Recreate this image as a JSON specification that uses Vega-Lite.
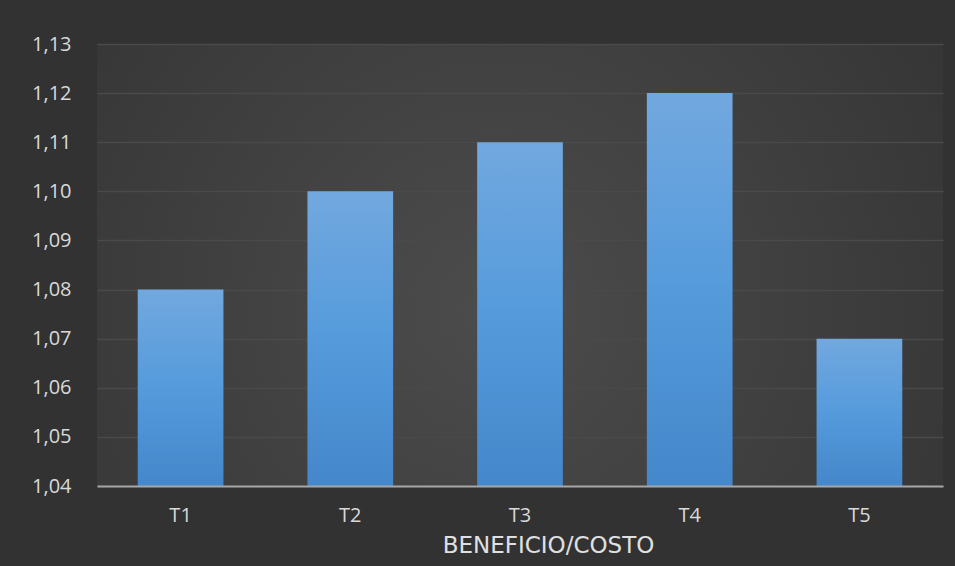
{
  "$schema": "https://vega.github.io/schema/vega-lite/v6.json",
  "autosize": {"type": "none"},
  "width": 846,
  "height": 442,
  "padding": {"left": 97, "top": 44, "right": 12, "bottom": 80},
  "background": "#323232",
  "config": {
    "view": {
      "stroke": null,
      "fill": {
        "gradient": "radial",
        "x1": 0.47, "y1": 0.55, "r1": 0,
        "x2": 0.47, "y2": 0.55, "r2": 0.8,
        "stops": [
          {"offset": 0, "color": "#4c4c4c"},
          {"offset": 1, "color": "#2f2f2f"}
        ]
      }
    },
    "font": "Open Sans"
  },
  "data": {
    "values": [
      {"trat": "T1", "bc": 1.08},
      {"trat": "T2", "bc": 1.10},
      {"trat": "T3", "bc": 1.11},
      {"trat": "T4", "bc": 1.12},
      {"trat": "T5", "bc": 1.07}
    ]
  },
  "mark": {
    "type": "bar",
    "fill": {
      "gradient": "linear",
      "x1": 0, "y1": 0, "x2": 0, "y2": 1,
      "stops": [
        {"offset": 0, "color": "#72a8df"},
        {"offset": 0.5, "color": "#559bdc"},
        {"offset": 1, "color": "#4487ca"}
      ]
    }
  },
  "encoding": {
    "x": {
      "field": "trat",
      "type": "nominal",
      "sort": null,
      "scale": {"paddingInner": 0.495, "paddingOuter": 0.24},
      "axis": {
        "title": "BENEFICIO/COSTO",
        "titleFont": "DejaVu Sans",
        "titleFontSize": 23,
        "titleFontWeight": "normal",
        "titleColor": "#e0e0e0",
        "titleX": 451,
        "titleY": 66,
        "titleBaseline": "alphabetic",
        "labelAngle": 0,
        "labelFontSize": 20,
        "labelColor": "#d9d9d9",
        "labelPadding": 19,
        "ticks": false,
        "domainColor": "#a6a6a6",
        "domainWidth": 2,
        "zindex": 1
      }
    },
    "y": {
      "field": "bc",
      "type": "quantitative",
      "scale": {"domain": [1.04, 1.13], "zero": false, "nice": false},
      "axis": {
        "title": null,
        "values": [1.04, 1.05, 1.06, 1.07, 1.08, 1.09, 1.10, 1.11, 1.12, 1.13],
        "labelExpr": "replace(format(datum.value, '.2f'), '.', ',')",
        "labelFontSize": 20,
        "labelColor": "#d9d9d9",
        "labelPadding": 26,
        "ticks": false,
        "domain": false,
        "gridColor": "#4a4a4a",
        "gridWidth": 1.5
      }
    },
    "y2": {"datum": 1.04}
  }
}
